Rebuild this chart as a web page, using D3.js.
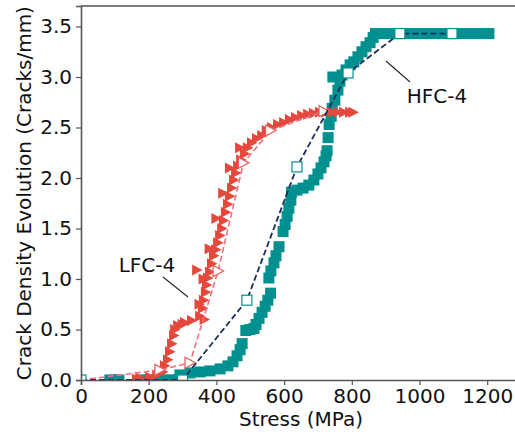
<!DOCTYPE html>
<html>
<head>
<meta charset="utf-8">
<script src="https://cdn.jsdelivr.net/npm/d3@7/dist/d3.min.js"></script>
<style>
body { margin: 0; background: #fff; }
svg { display: block; font-family: "DejaVu Sans", sans-serif; }
</style>
</head>
<body>
<div id="chart"></div>
<script>
// crack density vs stress, two specimens
var hfc_stress = [85, 100, 112, 185, 200, 215, 230, 245, 262, 280,
    292, 322, 352, 381, 411, 434, 449, 461, 470, 476,
    487, 499, 511, 517, 526, 535, 544, 552, 560,
    555, 561, 570, 576, 585,
    597, 603, 609, 614, 620, 622, 638, 656, 673, 688, 700, 709, 718, 724, 727,
    730, 733, 739, 742, 744, 750, 759, 765, 771, 783, 795, 806, 818, 830, 842, 854, 863,
    870, 890, 910, 930, 950, 970, 990, 1010, 1030, 1050, 1070, 1090, 1110, 1130, 1150, 1170, 1190, 1205];
var hfc_density = [0, 0, 0, 0, 0, 0, 0, 0, 0, 0,
    0.05, 0.07, 0.08, 0.09, 0.11, 0.14, 0.18, 0.24, 0.30, 0.36,
    0.49, 0.50, 0.51, 0.55, 0.61, 0.67, 0.73, 0.79, 0.86,
    1.01, 1.08, 1.16, 1.23, 1.32,
    1.47, 1.54, 1.62, 1.70, 1.78, 1.86, 1.88, 1.90, 1.93, 1.98, 2.04, 2.10, 2.16, 2.22, 2.27,
    2.40, 2.53, 2.61, 2.69, 3.00, 2.77, 2.87, 2.96, 3.02, 3.07, 3.12, 3.15, 3.20, 3.25, 3.30, 3.34, 3.39,
    3.43, 3.43, 3.43, 3.43, 3.43, 3.43, 3.43, 3.43, 3.43, 3.43, 3.43, 3.43, 3.43, 3.43, 3.43, 3.43, 3.43, 3.43];

var lfc_stress = [165, 175, 204, 225, 242, 248, 257, 263, 269, 275, 278, 287, 307, 328, 352, 365,
    360, 363, 369, 372, 375, 381, 387, 393, 399, 405, 411, 417, 422, 428, 434, 440, 446, 452, 458, 464,
    473, 484, 493, 505, 520, 535, 549, 564, 582, 600, 617, 635, 653, 671, 688, 706, 724, 741, 759, 777, 795, 805,
    343, 350, 300, 362, 380, 400, 420, 440, 470];
var lfc_density = [0.01, 0.02, 0.03, 0.05, 0.08, 0.14, 0.20, 0.28, 0.36, 0.44, 0.50, 0.54, 0.57, 0.59, 0.63, 0.60,
    0.71, 0.79, 0.87, 0.94, 1.01, 1.07, 1.15, 1.23, 1.29, 1.36, 1.43, 1.50, 1.58, 1.66, 1.74, 1.82, 1.90, 1.98, 2.05, 2.12,
    2.18, 2.24, 2.30, 2.35, 2.39, 2.42, 2.47, 2.50, 2.53, 2.55, 2.58, 2.60, 2.62, 2.63, 2.64, 2.65, 2.65, 2.65, 2.65, 2.65, 2.65, 2.65,
    1.09, 0.75, 0.55, 1.00, 1.30, 1.60, 1.85, 2.10, 2.30];

var hfc_fit_stress = [0, 300, 490, 638, 789, 942, 1096];
var hfc_fit_density = [0, 0, 0.79, 2.11, 3.04, 3.43, 3.43];
var lfc_fit_stress = [0, 233, 322, 405, 480, 560, 718];
var lfc_fit_density = [0, 0.10, 0.17, 1.08, 2.15, 2.47, 2.66];

var x_ticks = [0, 200, 400, 600, 800, 1000, 1200];
var y_ticks = [0, 0.5, 1.0, 1.5, 2.0, 2.5, 3.0, 3.5];

var width = 515, height = 437;
var margin = { top: 6, right: 0, bottom: 57, left: 81 };
var plot_w = 437, plot_h = height - margin.top - margin.bottom;

var svg = d3.select("#chart").append("svg")
    .attr("width", width)
    .attr("height", height);

var x = d3.scaleLinear().domain([0, 1291]).range([0, plot_w]);
var y = d3.scaleLinear().domain([0, 3.703]).range([plot_h, 0]);

svg.append("defs").append("clipPath").attr("id", "clip")
    .append("rect").attr("width", plot_w).attr("height", plot_h);

var g = svg.append("g").attr("transform", "translate(" + margin.left + "," + margin.top + ")");
var plot = g.append("g").attr("clip-path", "url(#clip)");

function zip(a, b) {
    return a.map(function (v, i) { return [v, b[i]]; });
}

var tri = "M-5,-5.5L5.5,0L-5,5.5Z";

// teal filled squares
plot.append("g").selectAll("rect")
    .data(zip(hfc_stress, hfc_density))
    .enter().append("rect")
    .attr("x", function (d) { return x(d[0]) - 5.5; })
    .attr("y", function (d) { return y(d[1]) - 5.5; })
    .attr("width", 11)
    .attr("height", 11)
    .attr("fill", "#009090");

// red filled triangles
plot.append("g").selectAll("path")
    .data(zip(lfc_stress, lfc_density))
    .enter().append("path")
    .attr("d", tri)
    .attr("transform", function (d) { return "translate(" + x(d[0]) + "," + y(d[1]) + ")"; })
    .attr("fill", "#e5483c");

var line = d3.line().x(function (d) { return x(d[0]); }).y(function (d) { return y(d[1]); });

plot.append("path")
    .datum(zip(lfc_fit_stress, lfc_fit_density))
    .attr("d", line)
    .attr("fill", "none")
    .attr("stroke", "#f0707f")
    .attr("stroke-width", 1.6)
    .attr("stroke-dasharray", "6,3");

plot.append("g").selectAll("path")
    .data(zip(lfc_fit_stress, lfc_fit_density))
    .enter().append("path")
    .attr("d", tri)
    .attr("transform", function (d) { return "translate(" + x(d[0]) + "," + y(d[1]) + ")"; })
    .attr("fill", "#fff")
    .attr("stroke", "#ee5a5a")
    .attr("stroke-width", 1.2);

plot.append("path")
    .datum(zip(hfc_fit_stress, hfc_fit_density))
    .attr("d", line)
    .attr("fill", "none")
    .attr("stroke", "#1c2b5e")
    .attr("stroke-width", 1.8)
    .attr("stroke-dasharray", "6,3");

plot.append("g").selectAll("rect")
    .data(zip(hfc_fit_stress, hfc_fit_density))
    .enter().append("rect")
    .attr("x", function (d) { return x(d[0]) - 5; })
    .attr("y", function (d) { return y(d[1]) - 5; })
    .attr("width", 10)
    .attr("height", 10)
    .attr("fill", "#fff")
    .attr("stroke", "#009090")
    .attr("stroke-width", 1.2);

// axes
var x_axis = g.append("g").attr("transform", "translate(0," + plot_h + ")")
    .call(d3.axisBottom(x).tickValues(x_ticks).tickSize(5).tickPadding(4).tickFormat(d3.format("d")));
var y_axis = g.append("g")
    .call(d3.axisLeft(y).tickValues(y_ticks).tickSize(5).tickPadding(4).tickFormat(d3.format(".1f")));

[x_axis, y_axis].forEach(function (a) {
    a.select(".domain").attr("stroke", "#555").attr("stroke-width", 1.6);
    a.selectAll(".tick line").attr("stroke", "#555").attr("stroke-width", 1.2);
    a.selectAll(".tick text").attr("fill", "#111").attr("font-size", "20px")
        .attr("font-family", "DejaVu Sans");
});

g.append("line").attr("x1", 0).attr("x2", plot_w).attr("y1", 0).attr("y2", 0)
    .attr("stroke", "#555").attr("stroke-width", 1.6);

svg.append("text")
    .attr("x", margin.left + x(650))
    .attr("y", 426)
    .attr("text-anchor", "middle")
    .attr("font-size", "20px")
    .attr("fill", "#111")
    .text("Stress (MPa)");

svg.append("text")
    .attr("transform", "translate(31," + (margin.top + y(1.85)) + ") rotate(-90)")
    .attr("text-anchor", "middle")
    .attr("font-size", "20px")
    .attr("fill", "#111")
    .text("Crack Density Evolution (Cracks/mm)");

// annotations
svg.append("text").attr("x", 147).attr("y", 272).attr("text-anchor", "middle")
    .attr("font-size", "20px").attr("fill", "#111").text("LFC-4");
svg.append("line").attr("x1", 163).attr("y1", 277).attr("x2", 188).attr("y2", 297)
    .attr("stroke", "#222").attr("stroke-width", 1.1);
svg.append("text").attr("x", 437).attr("y", 103).attr("text-anchor", "middle")
    .attr("font-size", "20px").attr("fill", "#111").text("HFC-4");
svg.append("line").attr("x1", 386).attr("y1", 61).attr("x2", 410).attr("y2", 82)
    .attr("stroke", "#222").attr("stroke-width", 1.1);
</script>
</body>
</html>
